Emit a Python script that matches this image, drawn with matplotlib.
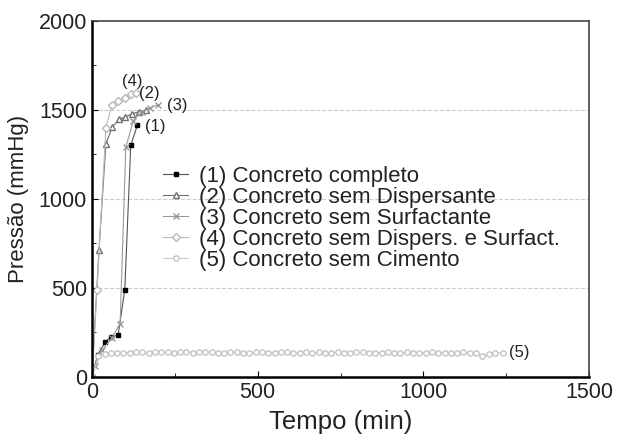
import matplotlib.pyplot as plt
import numpy as np

plt.rcParams['font.family'] = ['Liberation Sans', 'DejaVu Sans']

# Dados (tempo em min, pressão em mmHg)
t1 = [0, 17, 39, 56, 79, 99, 117, 137]
p1 = [0, 124, 194, 222, 237, 490, 1301, 1414]

t2 = [0, 21, 42, 61, 81, 101, 121, 141, 164]
p2 = [0, 712, 1309, 1403, 1446, 1461, 1478, 1489, 1498]

t3 = [0, 10, 30, 60, 85, 102, 125, 150, 175, 200]
p3 = [0, 60, 150, 220, 300, 1290, 1440, 1490, 1510, 1530]

t4 = [0, 15, 42, 59, 79, 99, 119, 134]
p4 = [0, 490, 1399, 1525, 1550, 1569, 1588, 1597]

t5 = [0, 19, 38, 57, 76, 95, 114, 133, 152, 171, 190, 209, 228, 247, 266,
      285, 304, 323, 342, 361, 380, 399, 418, 437, 456, 475, 494, 513, 532,
      551, 570, 589, 608, 627, 646, 665, 684, 703, 722, 741, 760, 779, 798,
      817, 836, 855, 874, 893, 912, 931, 950, 969, 988, 1007, 1026, 1045,
      1064, 1083, 1102, 1121, 1140, 1159, 1178, 1197, 1216, 1239]
p5 = [0, 118, 128, 132, 134, 136, 137, 140, 138, 136, 139, 141, 138, 137, 140,
      139, 136, 138, 141, 139, 137, 136, 138, 140, 137, 135, 138, 139, 136,
      137, 139, 138, 135, 137, 138, 136, 139, 137, 135, 138, 137, 136, 138,
      139, 137, 135, 136, 138, 137, 136, 138, 137, 135, 136, 138, 137,
      136, 135, 137, 138, 136, 135, 120, 128, 134, 136]

rotulos = ['(1) Concreto completo', '(2) Concreto sem Dispersante',
           '(3) Concreto sem Surfactante', '(4) Concreto sem Dispers. e Surfact.',
           '(5) Concreto sem Cimento']

# posições dos rótulos das curvas
marcas = ['(1)', '(2)', '(3)', '(4)', '(5)']
marcas_x = [159, 143, 226, 90, 1259]
marcas_y = [1405, 1592, 1527, 1660, 140]

txt = '#222222'

fig = plt.figure(figsize=(6.19, 4.43), dpi=100)
ax = fig.add_axes([0.1486, 0.149, 0.803, 0.804])

ax.plot(t1, p1, color='#555555', lw=0.8, marker='s', ms=3.5,
        mfc='black', mec='black', label=rotulos[0])
ax.plot(t2, p2, color='#707070', lw=0.8, marker='^', ms=5,
        mfc='white', mec='#707070', label=rotulos[1])
ax.plot(t3, p3, color='#999999', lw=0.8, marker='x', ms=4,
        mec='#999999', label=rotulos[2])
ax.plot(t4, p4, color='#b8b8b8', lw=0.8, marker='D', ms=4,
        mfc='white', mec='#b8b8b8', label=rotulos[3])
ax.plot(t5, p5, color='#cccccc', lw=0.8, marker='o', ms=3.8,
        mfc='white', mec='#c4c4c4', label=rotulos[4])

for m, x, y in zip(marcas, marcas_x, marcas_y):
    ax.text(x, y, m, fontsize=12, color=txt, va='center')

ax.set_xlim(0, 1500)
ax.set_ylim(0, 2000)
ax.set_xticks([0, 500, 1000, 1500])
ax.set_yticks([0, 500, 1000, 1500, 2000])
ax.set_xticks([250, 750, 1250], minor=True)
ax.set_yticks([250, 750, 1250, 1750], minor=True)
ax.tick_params(which='both', direction='in', labelsize=15.5, labelcolor=txt)
ax.tick_params(which='major', length=4)
ax.tick_params(which='minor', length=3)

for y in [500, 1000, 1500]:
    ax.axhline(y, color='#cccccc', lw=0.8, ls='--', zorder=0)

for lado in ['left', 'bottom']:
    ax.spines[lado].set_linewidth(1.8)
for lado in ['top', 'right']:
    ax.spines[lado].set_linewidth(1.2)
    ax.spines[lado].set_color('#444444')

ax.set_xlabel('Tempo (min)', fontsize=18.5, color=txt, labelpad=5)
ax.set_ylabel('Pressão (mmHg)', fontsize=16, color=txt, labelpad=7)

ax.legend(loc='upper left', bbox_to_anchor=(0.143, 0.592), frameon=False,
          fontsize=16, handlelength=1.13, handletextpad=0.5,
          labelspacing=0.0, borderpad=0, borderaxespad=0, labelcolor=txt)

fig.savefig('out.png', dpi=100)
